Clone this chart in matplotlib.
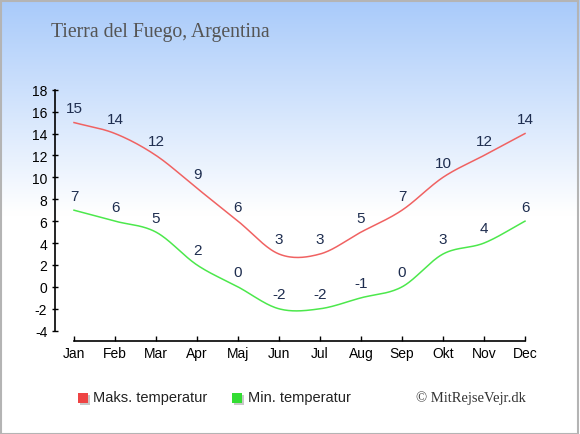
import numpy as np
import matplotlib
matplotlib.use("Agg")
import matplotlib.pyplot as plt
from matplotlib.patches import Rectangle

months = ["Jan", "Feb", "Mar", "Apr", "Maj", "Jun", "Jul", "Aug", "Sep", "Okt", "Nov", "Dec"]
max_temp = [15, 14, 12, 9, 6, 3, 3, 5, 7, 10, 12, 14]
min_temp = [7, 6, 5, 2, 0, -2, -2, -1, 0, 3, 4, 6]
yticks = list(range(-4, 19, 2))

W, H = 580, 435
red = "#f06262"
green = "#4ce84c"
label_col = "#1e2d4f"


def smooth(vals, n=30):
    # catmull-rom curve through the points
    p = np.array(vals, dtype=float)
    ext = np.concatenate([[2 * p[0] - p[1]], p, [2 * p[-1] - p[-2]]])
    xs, ys = [], []
    for i in range(len(p) - 1):
        p0, p1, p2, p3 = ext[i], ext[i + 1], ext[i + 2], ext[i + 3]
        m1 = (p2 - p0) / 2
        m2 = (p3 - p1) / 2
        t = np.linspace(0, 1, n, endpoint=False)
        h00 = 2 * t**3 - 3 * t**2 + 1
        h10 = t**3 - 2 * t**2 + t
        h01 = -2 * t**3 + 3 * t**2
        h11 = t**3 - t**2
        xs.append(i + t)
        ys.append(h00 * p1 + h10 * m1 + h01 * p2 + h11 * m2)
    xs.append([len(p) - 1])
    ys.append([p[-1]])
    return np.concatenate(xs), np.concatenate(ys)


fig = plt.figure(figsize=(W / 100, H / 100), dpi=100)

# background gradient
bg = fig.add_axes([0, 0, 1, 1])
grad = np.linspace(0, 1, 256)
grad = np.clip(grad / (215 / H), 0, 1)
top = np.array([168, 202, 250]) / 255
img = top[None, :] * (1 - grad[:, None]) + np.ones(3)[None, :] * grad[:, None]
bg.imshow(img[:, None, :], aspect="auto", extent=[0, 1, 0, 1], origin="upper")
bg.set_xlim(0, 1)
bg.set_ylim(0, 1)
bg.axis("off")
bg.add_patch(Rectangle((0.5 / W, 0.5 / H), 1 - 2.5 / W, 1 - 2.5 / H, fill=False,
                       edgecolor="#b4b4b4", linewidth=1.5))

x0, x1 = 74, 525
y_top, y_bot = 90.7, 331.7
ax = fig.add_axes([x0 / W, 1 - y_bot / H, (x1 - x0) / W, (y_bot - y_top) / H])
ax.patch.set_alpha(0)
ax.set_xlim(0, 11)
ax.set_ylim(-4, 18)

xs, ys = smooth(max_temp)
ax.plot(xs, ys, color=red, lw=1.1, clip_on=False)
xs, ys = smooth(min_temp)
ax.plot(xs, ys, color=green, lw=1.1, clip_on=False)

for series in (max_temp, min_temp):
    for i, v in enumerate(series):
        ax.annotate(str(v), (i, v), xytext=(0, 10.5), textcoords="offset points",
                    ha="center", va="center", fontsize=11, color=label_col,
                    family="Liberation Sans")

for s in ["top", "right"]:
    ax.spines[s].set_visible(False)
ax.spines["left"].set_position(("outward", 19 * 0.72))
ax.spines["bottom"].set_position(("outward", 10 * 0.72))
ax.spines["left"].set_bounds(-4, 18)
ax.spines["bottom"].set_bounds(0, 11)
ax.spines["left"].set_linewidth(1.2)
ax.spines["bottom"].set_linewidth(1.2)

ax.set_xticks(range(12))
ax.set_xticklabels(months)
ax.set_yticks(yticks)
ax.set_yticklabels([str(t) for t in yticks])
ax.tick_params(axis="x", direction="in", length=3.5, width=1, pad=4, labelsize=10)
ax.tick_params(axis="y", direction="inout", length=5, width=1, pad=3, labelsize=10)
for lab in ax.get_xticklabels() + ax.get_yticklabels():
    lab.set_family("Liberation Sans")

fig.text(51 / W, 1 - 32 / H, "Tierra del Fuego, Argentina", family="Liberation Serif",
         fontsize=14.2, color="#555555", va="center", ha="left")

# legend
for sx, col in ((78, "#ee4444"), (232, "#33dd33")):
    fig.patches.append(Rectangle(((sx + 1.5) / W, 1 - 405.5 / H), 10 / W, 10 / H,
                                 facecolor="#c8c8c8", edgecolor="none",
                                 transform=fig.transFigure))
    fig.patches.append(Rectangle((sx / W, 1 - 404 / H), 10 / W, 10 / H,
                                 facecolor=col, edgecolor="none",
                                 transform=fig.transFigure))
fig.text(93 / W, 1 - 398 / H, "Maks. temperatur", family="Liberation Sans",
         fontsize=10.5, color="#222222", va="center", ha="left")
fig.text(248 / W, 1 - 398 / H, "Min. temperatur", family="Liberation Sans",
         fontsize=10.5, color="#222222", va="center", ha="left")
fig.text(526 / W, 1 - 398 / H, "\u00a9 MitRejseVejr.dk", family="Liberation Serif",
         fontsize=10.5, color="#333333", va="center", ha="right")

fig.savefig("out.png", dpi=100)
